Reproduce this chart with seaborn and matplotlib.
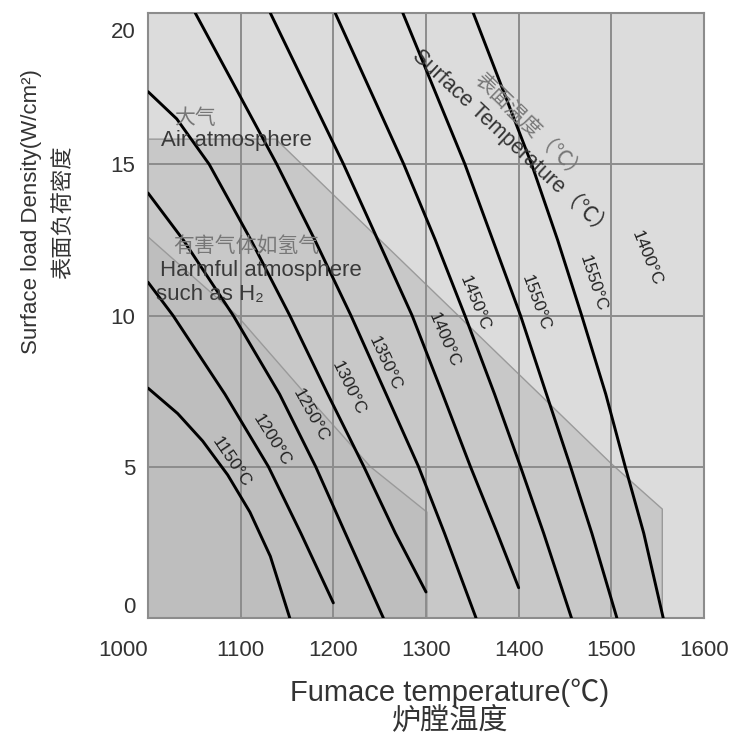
import pandas as pd
import seaborn as sns
import matplotlib.pyplot as plt
from matplotlib.transforms import ScaledTranslation

# surface temperature curves (furnace temp, load density)
c1150_x = [1000, 1032, 1059, 1086, 1110, 1132, 1153]
c1150_y = [7.6, 6.76, 5.85, 4.73, 3.5, 2.04, 0.0]
c1200_x = [1000, 1027, 1083, 1130, 1165, 1200]
c1200_y = [11.1, 10.0, 7.4, 5.0, 2.8, 0.5]
c1250_x = [1000, 1038, 1092, 1142, 1181, 1213, 1254]
c1250_y = [14.05, 12.5, 10.0, 7.4, 5.0, 2.8, 0.0]
c1300_x = [1000, 1031, 1066, 1111, 1153, 1194, 1233, 1267, 1300]
c1300_y = [17.4, 16.5, 15.0, 12.5, 10.0, 7.4, 5.0, 2.8, 0.86]
c1350_x = [1051, 1139, 1180, 1219, 1257, 1292, 1320, 1354]
c1350_y = [20.0, 15.0, 12.5, 10.0, 7.4, 5.0, 2.8, 0.0]
c1400_x = [1132, 1211, 1248, 1285, 1318, 1348, 1377, 1400]
c1400_y = [20.0, 15.0, 12.5, 10.0, 7.4, 5.0, 2.8, 1.0]
c1450_x = [1202, 1276, 1310, 1342, 1374, 1402, 1427, 1457]
c1450_y = [20.0, 15.0, 12.5, 10.0, 7.4, 5.0, 2.8, 0.0]
c1500_x = [1275, 1342, 1372, 1402, 1430, 1456, 1479, 1506]
c1500_y = [20.0, 15.0, 12.5, 10.0, 7.4, 5.0, 2.8, 0.0]
c1550_x = [1351, 1414, 1442, 1468, 1494, 1515, 1535, 1556]
c1550_y = [20.0, 15.0, 12.5, 10.0, 7.4, 5.0, 2.8, 0.0]

curve_temps = [1150, 1200, 1250, 1300, 1350, 1400, 1450, 1500, 1550]
curve_xs = [c1150_x, c1200_x, c1250_x, c1300_x, c1350_x, c1400_x, c1450_x, c1500_x, c1550_x]
curve_ys = [c1150_y, c1200_y, c1250_y, c1300_y, c1350_y, c1400_y, c1450_y, c1500_y, c1550_y]

# shaded zones
air_x = [1000, 1138, 1500, 1555, 1555, 1000]
air_y = [15.83, 15.83, 5.1, 3.6, 0, 0]
harm_x = [1000, 1096, 1170, 1240, 1301, 1301, 1000]
harm_y = [12.6, 10.0, 7.4, 5.0, 3.5, 0, 0]

# curve labels (as printed on the original)
lab_text = ["1150°C", "1200°C", "1250°C", "1300°C", "1350°C", "1400°C",
            "1450°C", "1550°C", "1550°C", "1400°C"]
lab_x = [1090, 1134, 1175, 1216, 1256, 1320, 1352, 1418, 1480, 1538]
lab_y = [5.16, 5.88, 6.71, 7.60, 8.40, 9.19, 10.41, 10.41, 11.07, 11.90]
lab_rot = [-56, -58, -61, -64, -65, -67, -68, -70, -72, -68]

x_ticks = [1000, 1100, 1200, 1300, 1400, 1500, 1600]
y_ticks = [0, 5, 10, 15, 20]

sns.set_theme(style="white")
plt.rcParams['font.family'] = ['Liberation Sans', 'Noto Sans CJK SC', 'DejaVu Sans']

fig = plt.figure(figsize=(7.35, 7.42), dpi=100)
ax = fig.add_axes([148 / 735, 1 - 618 / 742, 556 / 735, 605 / 742])
ax.set_facecolor('#dcdcdc')

ax.fill(air_x, air_y, facecolor='#c8c8c8', edgecolor='#9a9a9a', lw=1, zorder=1)
ax.fill(harm_x, harm_y, facecolor='#bebebe', edgecolor='#9a9a9a', lw=1, zorder=1.1)

df = pd.concat([pd.DataFrame({'x': xs, 'y': ys, 'curve': t})
                for t, xs, ys in zip(curve_temps, curve_xs, curve_ys)])
sns.lineplot(data=df, x='x', y='y', units='curve', estimator=None, sort=False,
             color='black', lw=2.1, ax=ax, legend=False, zorder=3)

ax.set_xlim(1000, 1600)
ax.set_ylim(0, 20)
ax.set_xticks(x_ticks)
ax.set_yticks(y_ticks)
ax.set_axisbelow('line')
ax.grid(True, color='#8c8c8c', lw=1.4)
for s in ax.spines.values():
    s.set_color('#8c8c8c')
    s.set_linewidth(1.5)
ax.tick_params(axis='both', length=0, labelsize=16, labelcolor='#333333')
ax.tick_params(axis='x', pad=16)
ax.tick_params(axis='y', pad=9)
ax.get_xticklabels()[0].set_ha('right')
top_lab = ax.get_yticklabels()[-1]
top_lab.set_transform(top_lab.get_transform() + ScaledTranslation(0, -12 / 72, fig.dpi_scale_trans))
ax.get_yticklabels()[0].set_va('bottom')

for t, x, y, r in zip(lab_text, lab_x, lab_y, lab_rot):
    ax.text(x, y, t, rotation=r, rotation_mode='anchor', ha='center', va='center',
            fontsize=12.5, color='#222222', zorder=4)

ax.text(1394, 15.70, "Surface Temperature（℃）", rotation=-43, rotation_mode='anchor',
        ha='center', va='center', fontsize=15.5, color='#333333', zorder=4)
ax.text(1412, 16.20, "表面温度（℃）", rotation=-44, rotation_mode='anchor',
        ha='center', va='center', fontsize=15, color='#777777', zorder=4)

ax.text(1051, 16.53, "大气", ha='center', va='center', fontsize=15, color='#777777', zorder=4)
ax.text(1014, 15.77, "Air atmosphere", ha='left', va='center', fontsize=16, color='#3a3a3a', zorder=4)
ax.text(1027, 12.30, "有害气体如氢气", ha='left', va='center', fontsize=15, color='#777777', zorder=4)
ax.text(1013, 11.50, "Harmful atmosphere", ha='left', va='center', fontsize=16, color='#3a3a3a', zorder=4)
ax.text(1009, 10.68, "such as H₂", ha='left', va='center', fontsize=16, color='#3a3a3a', zorder=4)

ax.set_xlabel("Fumace temperature(℃)\n炉膛温度", fontsize=21, color='#333333', linespacing=1.0)
ax.xaxis.set_label_coords((450 - 148) / 556, (618 - 678) / 605)
ax.set_ylabel("Surface load Density(W/cm²)\n表面负荷密度", fontsize=16, color='#333333', linespacing=1.7)
ax.yaxis.set_label_coords((74 - 148) / 556, (618 - 212) / 605)

fig.savefig("out.png", dpi=100)
